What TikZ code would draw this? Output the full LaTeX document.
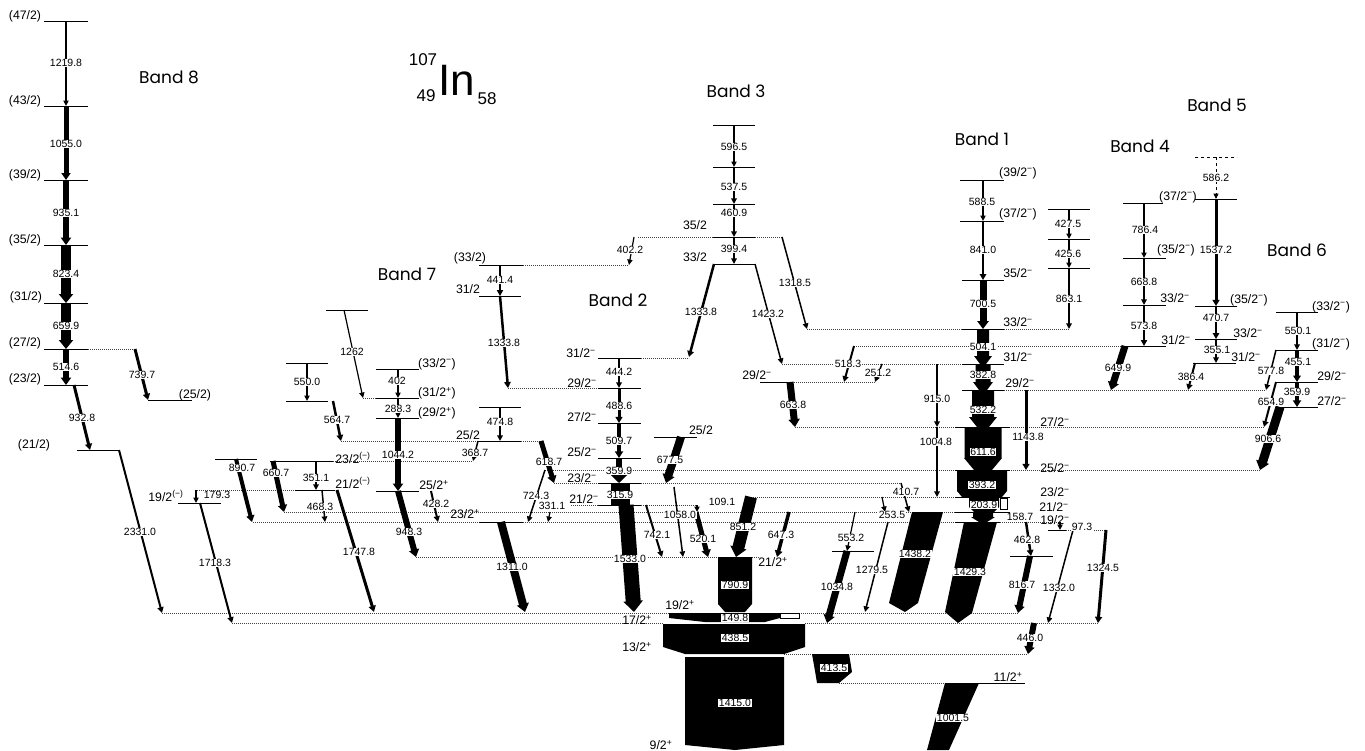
\documentclass[tikz,border=0pt]{standalone}
\usepackage{fontspec}
\setmainfont{Liberation Sans}
\newfontfamily\bandfont{Poppins}
\usetikzlibrary{arrows.meta}
\pgfdeclarelayer{spins}
\pgfdeclarelayer{labs}
\pgfsetlayers{main,spins,labs}
\newcommand\enf{\fontsize{10.5}{11}\selectfont}
\newcommand\spf{\fontsize{12.3}{13}\selectfont}
\newcommand\smin{\textsuperscript{−}}
\newcommand\splus{\textsuperscript{+}}
\newcommand\spar{\textsuperscript{(−)}}
\tikzset{
  lvls/.style={line width=0.9pt},
  dotl/.style={line width=0.6pt, dash pattern=on 0.8pt off 1.2pt, black!75},
  elab/.style={font=\enf, fill=white, inner sep=0.6pt},
  slab/.style={font=\spf, inner sep=0pt},
  bandlab/.style={font=\bandfont\fontsize{17}{18}\selectfont, inner sep=0pt},
}
\newcommand\gam[9][]{%
  \pgfmathsetmacro\trhw{#6+4}\pgfmathsetmacro\trhl{0.4*#6+5}%
  \draw[line width=#6pt, -{Triangle[width=\trhw pt, length=\trhl pt]}, #1] (#2,#3) -- (#4,#5);
  \begin{pgfonlayer}{labs}\node[elab] at (#8,#9) {#7};\end{pgfonlayer}}
\newcommand\lvl[3]{\draw[lvls] (#1,#3) -- (#2,#3);}
\newcommand\dlv[3]{\draw[dotl] (#1,#3) -- (#2,#3);}
\newcommand\spn[3]{\begin{pgfonlayer}{spins}\node[slab] at (#1,#2) {#3};\end{pgfonlayer}}
\newcommand\elabel[3]{\begin{pgfonlayer}{labs}\node[elab] at (#1,#2) {#3};\end{pgfonlayer}}
\newcommand\blk[7]{\fill (#1-#4,#2) -- (#1+#4,#2) -- (#1+#4,#3-#6) -- (#1+#5,#3-#6) -- (#1+#7,#3) -- (#1-#7,#3) -- (#1-#5,#3-#6) -- (#1-#4,#3-#6) -- cycle;}
\begin{document}
\begin{tikzpicture}[x=1pt,y=-1pt]
\useasboundingbox (0,0) rectangle (1365,750);
\fill[white] (0,0) rectangle (1365,750);
% ---------- dotted level extensions
\dlv{88}{135}{349}
\dlv{197}{295}{490}
\dlv{333}{473}{461}
\dlv{341}{478}{441} \dlv{521}{541}{441}
\dlv{363}{376}{398}
\dlv{523}{628}{265}
\dlv{638}{713}{237} \dlv{755}{782}{237}
\dlv{641}{689}{358}
\dlv{508}{598}{388}
\dlv{545}{1260}{470}
\dlv{554}{598}{483} \dlv{641}{901}{483}
\dlv{571}{598}{505} \dlv{641}{697}{505}
\dlv{745}{955}{497}
\dlv{284}{955}{512}
\dlv{253}{479}{522} \dlv{523}{955}{522} \dlv{1000}{1061}{522}
\dlv{1066}{1106}{530}
\dlv{416}{718}{557} \dlv{752}{760}{557}
\dlv{162}{669}{613} \dlv{799}{1018}{613}
\dlv{232}{663}{623} \dlv{805}{1098}{623}
\dlv{784}{1028}{654}
\dlv{839}{945}{683}
\dlv{807}{962}{329} \dlv{1004}{1069}{329}
\dlv{782}{962}{364}
\dlv{854}{1123}{346}
\dlv{792}{875}{382}
\dlv{1004}{1266}{390}
\dlv{795}{1264}{427}
% ---------- levels
\lvl{44}{88}{21}\lvl{44}{88}{106}\lvl{44}{88}{180}\lvl{44}{88}{245}
\lvl{44}{88}{303}\lvl{44}{88}{349}\lvl{44}{88}{385}
\lvl{77}{119}{450}\lvl{148}{192}{400}
\lvl{178}{221}{503}
\lvl{215}{257}{459}
\lvl{270}{333}{461}
\lvl{295}{335}{490}
\lvl{286}{328}{363}\lvl{286}{328}{401}
\lvl{326}{368}{310}
\lvl{376}{419}{369}\lvl{376}{419}{398}\lvl{376}{419}{418}\lvl{376}{419}{491}
\lvl{479}{523}{265}\lvl{479}{521}{296}\lvl{479}{521}{407}\lvl{478}{521}{441}\lvl{479}{523}{522}
\lvl{598}{641}{358}\lvl{598}{641}{388}\lvl{598}{641}{423}\lvl{598}{641}{458}\lvl{598}{641}{483}\lvl{598}{641}{505}
\lvl{713}{755}{125}\lvl{713}{755}{167}\lvl{713}{755}{204}\lvl{713}{755}{237}\lvl{713}{755}{264}
\lvl{654}{697}{437}
\lvl{760}{792}{382}
\lvl{832}{874}{551}
\lvl{960}{1004}{180}\lvl{960}{1004}{221}\lvl{962}{1004}{280}\lvl{962}{1004}{329}\lvl{962}{1004}{364}\lvl{962}{1004}{390}
\lvl{955}{1010}{427}\lvl{955}{1010}{470}\lvl{955}{1010}{497}\lvl{955}{1010}{512}\lvl{955}{1000}{522}
\lvl{1048}{1066}{530}
\lvl{1010}{1053}{556}
\lvl{1048}{1090}{209}\lvl{1048}{1090}{239}\lvl{1048}{1090}{268}
\lvl{1123}{1163}{203}\lvl{1123}{1166}{258}\lvl{1123}{1166}{305}\lvl{1123}{1166}{346}
\draw[lvls,dashed] (1195,157) -- (1237,157);
\lvl{1195}{1237}{199}\lvl{1195}{1237}{306}\lvl{1195}{1237}{339}\lvl{1193}{1236}{363}
\lvl{1276}{1318}{312}\lvl{1276}{1318}{350}\lvl{1276}{1318}{382}\lvl{1276}{1318}{407}
\lvl{945}{1025}{683}
% ---------- band 8
\gam{66}{21}{66}{106}{1.2}{1219.8}{66}{63}
\gam{66}{106}{66}{180}{5}{1055.0}{66}{144}
\gam{66}{180}{66}{245}{6}{935.1}{66}{213}
\gam{66}{245}{66}{303}{10}{823.4}{66}{274}
\gam{66}{303}{66}{349}{10}{659.9}{66}{326}
\gam{66}{349}{66}{385}{6}{514.6}{66}{367}
\gam{135}{349}{148}{400}{3}{739.7}{142}{375}
\gam{74}{385}{90}{450}{3}{932.8}{82}{418}
\gam{119}{450}{162}{613}{2}{2331.0}{140}{532}
% ---------- band 7 region
\gam{344}{310}{363}{398}{1.2}{1262}{352}{352}
\gam{307}{363}{307}{401}{1.2}{550.0}{307}{382}
\gam{333}{401}{341}{441}{2.5}{564.7}{337}{420}
\gam{398}{369}{398}{398}{1.2}{402}{397}{381}
\gam{398}{398}{398}{418}{1.2}{288.3}{398}{409}
\gam{398}{418}{398}{491}{6}{1044.2}{398}{455}
\gam{398}{491}{416}{557}{6}{948.3}{409}{532}
\gam{431}{491}{438}{522}{2}{428.2}{436}{504}
\gam{500}{265}{500}{296}{2}{441.4}{500}{280}
\gam{500}{296}{508}{388}{2.5}{1333.8}{504}{343}
\gam{500}{407}{500}{441}{1.5}{474.8}{500}{422}
\gam{478}{441}{473}{461}{1.5}{368.7}{475}{453}
\gam{541}{441}{554}{483}{5}{618.7}{549}{462}
\gam{545}{470}{528}{522}{1.5}{724.3}{536}{496}
\gam{501}{522}{525}{612}{8}{1311.0}{512}{567}
\gam{337}{490}{374}{612}{3}{1747.8}{359}{552}
\gam{316}{461}{316}{490}{1.5}{351.1}{316}{478}
\gam{236}{459}{252}{522}{4}{890.7}{242}{468}
\gam{273}{461}{284}{512}{5}{660.7}{276}{473}
\gam{196}{490}{196}{503}{1.2}{179.3}{217}{495}
\gam{200}{503}{232}{623}{2}{1718.3}{215}{563}
\gam{322}{490}{325}{522}{1.5}{468.3}{320}{507}
\gam{550}{512}{548}{522}{1.2}{331.1}{552}{506}
% ---------- band 2
\gam{619}{358}{619}{388}{1.5}{444.2}{619}{372}
\gam{619}{388}{619}{423}{3}{488.6}{619}{406}
\gam{619}{423}{619}{458}{4}{509.7}{619}{441}
\gam[-{Triangle[width=18pt,length=9pt]}]{619}{458}{619}{483}{6}{359.9}{619}{471}
\fill (611,483) rectangle (630,505);
\elabel{620}{495}{315.9}
\gam{626}{505}{634}{612}{15}{1533.0}{630}{559}
\gam{681}{437}{666}{483}{8}{677.5}{670}{460}
\gam{674}{487}{683}{557}{1.5}{1058.0}{680}{515}
\gam{697}{505}{697}{512}{1.2}{109.1}{722}{502}
\gam{646}{505}{662}{557}{2}{742.1}{657}{535}
\gam{696}{512}{708}{557}{5}{520.1}{703}{539}
\gam{751}{497}{736}{557}{12}{851.2}{743}{527}
\gam{789}{512}{777}{557}{3.5}{647.3}{781}{535}
\gam{855}{512}{847}{551}{1.2}{553.2}{851}{538}
\gam{847}{551}{827}{623}{7}{1034.8}{837}{587}
\gam{888}{522}{865}{612}{1.5}{1279.5}{872}{570}
\gam{882}{497}{885}{512}{1.2}{253.5}{892}{515}
\gam{901}{483}{909}{512}{1.5}{410.7}{906}{492}
% ---------- band 3
\gam{734}{125}{734}{167}{1.2}{596.5}{734}{147}
\gam{734}{167}{734}{204}{1.5}{537.5}{734}{187}
\gam{734}{204}{734}{237}{1.5}{460.9}{734}{213}
\gam{734}{237}{734}{264}{1.5}{399.4}{734}{249}
\gam{634}{237}{629}{265}{1.2}{402.2}{630}{250}
\gam{714}{264}{689}{357}{2.5}{1333.8}{701}{312}
\gam{755}{264}{782}{364}{1.5}{1423.2}{768}{314}
\gam{782}{237}{807}{329}{1.5}{1318.5}{795}{283}
\gam{790}{382}{795}{427}{7}{663.8}{793}{405}
\gam{854}{346}{844}{382}{2}{518.3}{848}{364}
\gam{882}{364}{875}{382}{1.5}{251.2}{878}{373}
\gam{937}{364}{937}{427}{1.5}{915.0}{937}{399}
\gam{937}{427}{937}{497}{1.5}{1004.8}{936}{442}
% ---------- band 1
\gam{983}{180}{983}{221}{1.2}{588.5}{982}{202}
\gam{983}{221}{983}{280}{2.5}{841.0}{983}{250}
\gam{983}{280}{983}{329}{7}{700.5}{983}{304}
\blk{983}{329}{364}{6}{9}{8}{3}\elabel{983}{347}{504.1}
\blk{983}{364}{390}{7.5}{10}{8}{4}\elabel{983}{375}{382.8}
\blk{983}{390}{427}{11}{14}{10}{6}\elabel{983}{410}{532.2}
\blk{983}{427}{470}{18.5}{19}{12}{9}\elabel{983}{452}{611.6}
\blk{982}{470}{497}{25}{25}{6}{20}\elabel{982}{485}{393.2}
\blk{984}{497}{512}{15}{15}{5}{10}\elabel{984}{505}{203.9}
\draw[fill=white,line width=0.6pt] (1000,498) rectangle (1007,509);
\blk{983}{512}{522}{10}{12}{5}{4}\elabel{1020}{517}{158.7}
\fill (912,512) -- (943,512) -- (918,603) -- (905,612) -- (889,603) -- cycle;
\elabel{915}{554}{1438.2}
\fill (964,522) -- (997,522) -- (972,613) -- (958,623) -- (945,612) -- cycle;
\elabel{970}{572}{1429.3}
\gam{1026}{390}{1026}{470}{3}{1143.8}{1028}{437}
\gam{1060}{522}{1060}{530}{1.2}{97.3}{1082}{527}
\gam{1026}{522}{1031}{556}{2.5}{462.8}{1027}{540}
\gam{1030}{556}{1018}{613}{6}{816.7}{1022}{585}
\gam{1073}{530}{1048}{623}{1.5}{1332.0}{1059}{588}
\gam{1106}{530}{1098}{623}{3}{1324.5}{1103}{568}
\gam{1034}{623}{1028}{654}{6}{446.0}{1030}{638}
\gam{1069}{209}{1069}{239}{1.2}{427.5}{1068}{224}
\gam{1069}{239}{1069}{268}{1.2}{425.6}{1068}{254}
\gam{1069}{268}{1069}{329}{1.5}{863.1}{1069}{299}
% ---------- band 4
\gam{1144}{203}{1144}{258}{1.2}{786.4}{1145}{230}
\gam{1144}{258}{1144}{305}{1.5}{668.8}{1144}{282}
\gam{1144}{305}{1144}{346}{2}{573.8}{1144}{326}
\gam{1125}{346}{1111}{390}{7}{649.9}{1118}{368}
% ---------- band 5
\gam[dashed]{1216}{157}{1216}{199}{1}{586.2}{1216}{178}
\gam{1216}{199}{1216}{306}{3}{1537.2}{1216}{250}
\gam{1216}{306}{1216}{339}{2.5}{470.7}{1216}{318}
\gam{1216}{339}{1216}{363}{1.5}{355.1}{1217}{350}
\gam{1195}{363}{1188}{390}{2}{386.4}{1191}{377}
% ---------- band 6
\gam{1297}{312}{1297}{350}{1.5}{550.1}{1298}{331}
\gam{1297}{350}{1297}{382}{3.5}{455.1}{1298}{362}
\gam{1297}{382}{1297}{407}{4}{359.9}{1297}{392}
\gam{1276}{350}{1266}{390}{1.5}{577.8}{1271}{371}
\gam{1276}{382}{1264}{427}{2}{654.9}{1271}{402}
\gam{1280}{407}{1260}{470}{9}{906.6}{1268}{439}
% ---------- bottom blocks
\fill (718,557) -- (752,557) -- (752,604) -- (745,612) -- (725,612) -- (718,604) -- cycle;
\elabel{735}{585}{790.9}
\fill (669,613) -- (780,613) -- (780,618) -- (765,622) -- (705,622) -- (669,618) -- cycle;
\draw[fill=white,line width=0.6pt] (780,613) rectangle (799,618);
\elabel{735}{618}{149.8}
\fill (663,624) -- (805,624) -- (805,647) -- (784,654) -- (685,654) -- (663,647) -- cycle;
\elabel{735}{638}{438.5}
\fill (685,657) -- (784,657) -- (784,745) -- (735,750) -- (685,745) -- cycle;
\elabel{735}{703}{1415.0}
\fill (812,654) -- (849,654) -- (852,672) -- (839,683) -- (817,683) -- (815,671) -- cycle;
\elabel{834}{668}{413.5}
\fill (945,683) -- (979,683) -- (949,750) -- (927,750) -- cycle;
\elabel{953}{718}{1001.5}
% ---------- spin labels
\spn{25}{16}{(47/2)}\spn{25}{101}{(43/2)}\spn{25}{175}{(39/2)}\spn{25}{240}{(35/2)}
\spn{26}{297}{(31/2)}\spn{25}{343}{(27/2)}\spn{25}{379}{(23/2)}\spn{34}{445}{(21/2)}
\spn{195}{395}{(25/2)}
\spn{166}{496}{19/2\spar}
\spn{353}{458}{23/2\spar}\spn{353}{483}{21/2\spar}
\spn{470}{258}{(33/2)}\spn{468}{289}{31/2}
\spn{437}{364}{(33/2\smin)}\spn{437}{393}{(31/2\splus)}\spn{437}{413}{(29/2\splus)}
\spn{468}{435}{25/2}\spn{434}{485}{25/2\splus}\spn{465}{514}{23/2\splus}
\spn{581}{353}{31/2\smin}\spn{582}{383}{29/2\smin}\spn{582}{417}{27/2\smin}
\spn{582}{452}{25/2\smin}\spn{582}{478}{23/2\smin}\spn{584}{499}{21/2\smin}
\spn{695}{225}{35/2}\spn{695}{257}{33/2}\spn{701}{430}{25/2}\spn{757}{375}{29/2\smin}
\spn{1018}{173}{(39/2\smin)}\spn{1018}{214}{(37/2\smin)}\spn{1018}{273}{35/2\smin}
\spn{1018}{322}{33/2\smin}\spn{1018}{357}{31/2\smin}\spn{1020}{383}{29/2\smin}
\spn{1055}{422}{27/2\smin}\spn{1055}{468}{25/2\smin}\spn{1055}{492}{23/2\smin}
\spn{1054}{507}{21/2\smin}\spn{1055}{520}{19/2\smin}
\spn{1178}{197}{(37/2\smin)}\spn{1176}{250}{(35/2\smin)}\spn{1175}{298}{33/2\smin}\spn{1176}{340}{31/2\smin}
\spn{1249}{300}{(35/2\smin)}\spn{1248}{333}{33/2\smin}\spn{1246}{357}{31/2\smin}
\spn{1331}{307}{(33/2\smin)}\spn{1331}{344}{(31/2\smin)}\spn{1332}{376}{29/2\smin}\spn{1332}{401}{27/2\smin}
\spn{773}{562}{21/2\splus}\spn{680}{605}{19/2\splus}\spn{637}{620}{17/2\splus}
\spn{637}{647}{13/2\splus}\spn{1008}{677}{11/2\splus}\spn{661}{745}{9/2\splus}
% ---------- titles
\node[bandlab] at (169,77) {Band 8};
\node[bandlab] at (407,274) {Band 7};
\node[bandlab] at (618,300) {Band 2};
\node[bandlab] at (736,91) {Band 3};
\node[bandlab] at (982,139) {Band 1};
\node[bandlab] at (1140,146) {Band 4};
\node[bandlab] at (1217,105) {Band 5};
\node[bandlab] at (1297,250) {Band 6};
\node[inner sep=0pt, font=\fontsize{44}{44}\selectfont] at (457,80) {In};
\node[inner sep=0pt, font=\fontsize{17}{17}\selectfont] at (423,60) {107};
\node[inner sep=0pt, font=\fontsize{17}{17}\selectfont] at (426,96) {49};
\node[inner sep=0pt, font=\fontsize{17}{17}\selectfont] at (487,99) {58};
\end{tikzpicture}
\end{document}
